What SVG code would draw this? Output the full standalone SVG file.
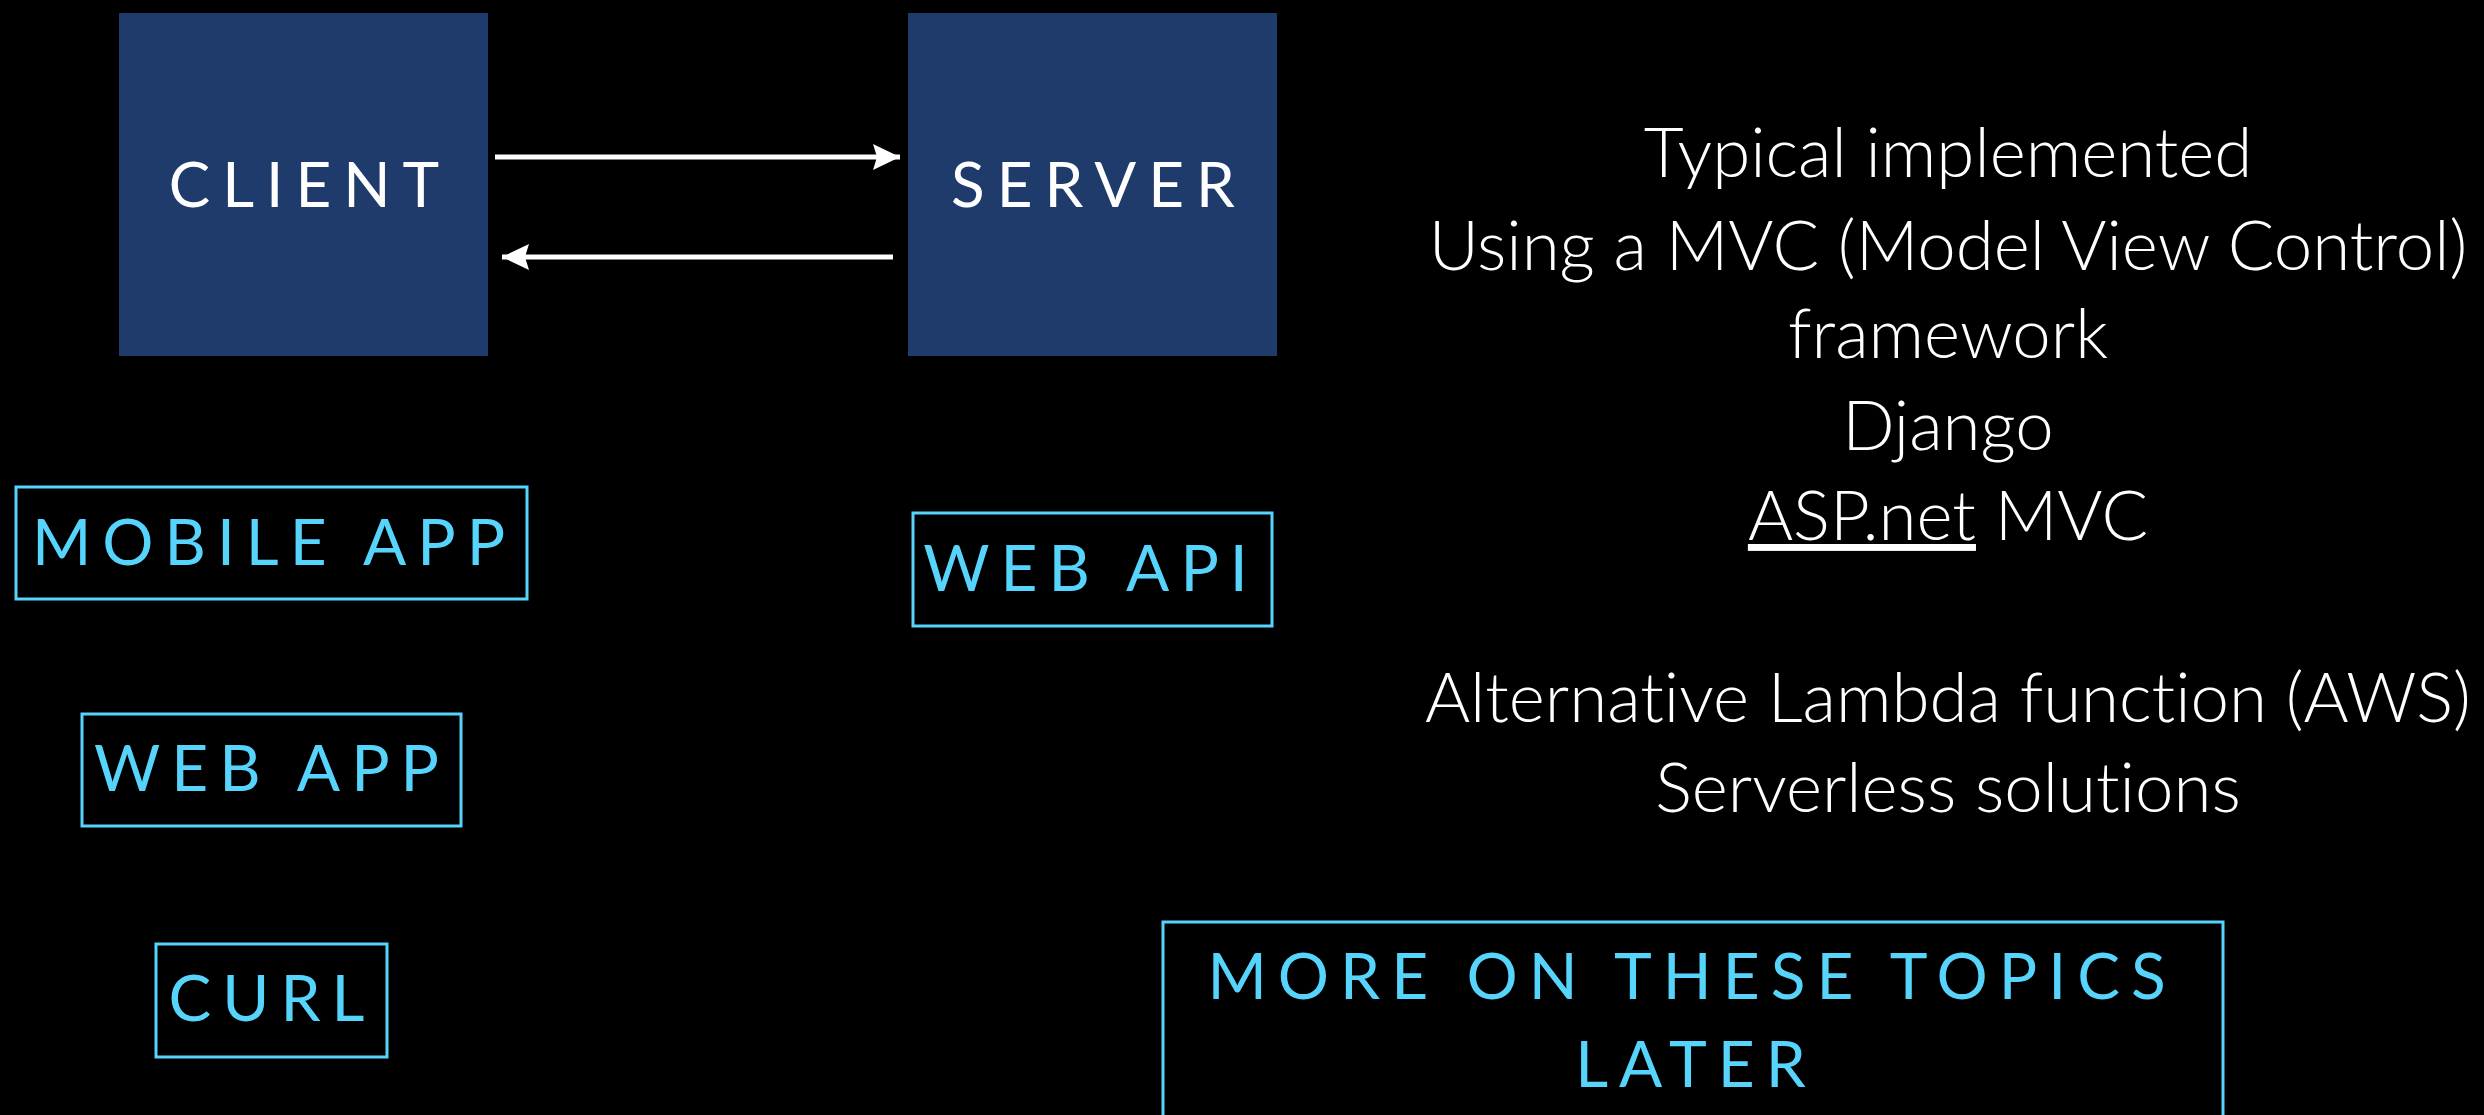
<svg xmlns="http://www.w3.org/2000/svg" width="2484" height="1115" viewBox="0 0 2484 1115">
<defs>
<marker id="ah" markerUnits="userSpaceOnUse" markerWidth="28" markerHeight="26" refX="27" refY="13" orient="auto">
<path d="M0,0 L27,13 L0,26 L4,13 Z" fill="#ffffff"/>
</marker>
<style>
.main{fill:#1F3B6C}
.box{fill:none;stroke:#56D4FB;stroke-width:3}
.mt{font-family:Lato,"Liberation Sans",sans-serif;font-size:62px;fill:#ffffff;letter-spacing:12px;text-anchor:middle}
.lb{font-family:Lato,"Liberation Sans",sans-serif;font-size:64px;fill:#56D4FB;letter-spacing:11px;text-anchor:middle}
.bd{font-family:Lato,"Liberation Sans",sans-serif;font-weight:300;font-size:69px;fill:#ffffff;text-anchor:middle;font-variant-ligatures:none}
.conn{stroke:#ffffff;stroke-width:5;fill:none}
</style>
</defs>
<rect width="2484" height="1115" fill="#000000"/>
<g id="client">
<rect class="main" x="119" y="13" width="369" height="343"/>
<text class="mt" x="310" y="207">CLIENT</text>
</g>
<g id="server">
<rect class="main" x="908" y="13" width="369" height="343"/>
<text class="mt" x="1099" y="207">SERVER</text>
</g>
<g id="mobile-app">
<rect class="box" x="16" y="487" width="511" height="112"/>
<text class="lb" x="274" y="565">MOBILE APP</text>
</g>
<g id="web-app">
<rect class="box" x="82" y="714" width="379" height="112"/>
<text class="lb" x="272" y="791">WEB APP</text>
</g>
<g id="curl">
<rect class="box" x="156" y="944" width="231" height="113"/>
<text class="lb" x="272" y="1021">CURL</text>
</g>
<g id="web-api">
<rect class="box" x="913" y="513" width="359" height="113"/>
<text class="lb" x="1091" y="591">WEB API</text>
</g>
<g id="more-topics">
<rect class="box" x="1163" y="922" width="1060" height="210"/>
<text class="lb" x="1692" y="999">MORE ON THESE TOPICS</text>
<text class="lb" x="1696" y="1087">LATER</text>
</g>
<g id="notes">
<text class="bd" x="1948" y="177">Typical implemented</text>
<text class="bd" x="1948" y="270">Using a MVC (Model View Control)</text>
<text class="bd" x="1948" y="358">framework</text>
<text class="bd" x="1948" y="450">Django</text>
<text class="bd" x="1948" y="540"><tspan text-decoration="underline">ASP.net</tspan> MVC</text>
<text class="bd" x="1948" y="722">Alternative Lambda function (AWS)</text>
<text class="bd" x="1948" y="812">Serverless solutions</text>
</g>
<g id="connectors">
<line class="conn" x1="495" y1="157" x2="900" y2="157" marker-end="url(#ah)"/>
<line class="conn" x1="893" y1="257" x2="502" y2="257" marker-end="url(#ah)"/>
</g>
</svg>
